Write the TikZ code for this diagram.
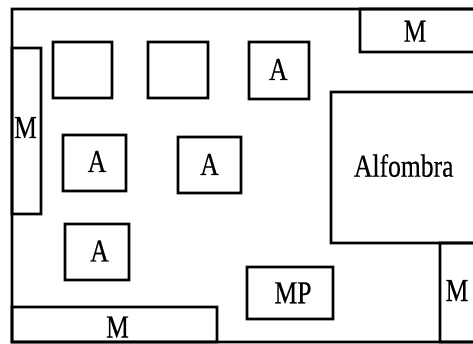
\documentclass[tikz,border=0pt]{standalone}
\usepackage{fontspec}
\setmainfont{Liberation Serif}
\newfontfamily\labfont[FakeStretch=0.8,FakeBold=0.4]{Liberation Serif}
\tikzset{
  lab/.style={anchor=base,inner sep=0pt,font=\labfont\fontsize{32}{32}\selectfont,text=black}
}
% outlined box drawn as a frame: outer corner, inner corner
\newcommand{\frameit}[5][2.7]{\fill[black,even odd rule] (#2-#1/2,#3-#1/2) rectangle (#4+#1/2,#5+#1/2) (#2+#1/2,#3+#1/2) rectangle (#4-#1/2,#5-#1/2);}
\begin{document}
\begin{tikzpicture}[x=1pt,y=-1pt]
\clip (0,0) rectangle (473,344);
\fill[white] (0,0) rectangle (473,344);
\frameit{12}{9}{490}{342}
\frameit{12}{48}{41}{214}
\frameit{53}{42}{112}{98}
\frameit{148}{42}{208}{98}
\frameit{249}{42}{309}{99}
\frameit{63}{135}{126}{191}
\frameit{178}{137}{241}{193}
\frameit{65}{224}{129}{280}
\frameit{12}{307}{217}{342}
\frameit{360}{9}{490}{52}
\frameit{331}{92}{490}{243}
\frameit{247}{267}{333}{319}
\frameit{440}{243}{490}{342}
\node[lab] (mleft) at (25.5,138) {M};
\node[lab] (a1) at (278.3,80) {A};
\node[lab] (a2) at (97,172) {A};
\node[lab] (a3) at (209.5,175) {A};
\node[lab] (a4) at (99.5,261.5) {A};
\node[lab] (mbottom) at (117.5,337.5) {M};
\node[lab] (mtop) at (415,41.7) {M};
\node[lab] (alf) at (403.7,176.7) {Alfombra};
\node[lab] (mp) at (293,303.3) {MP};
\node[lab] (mright) at (457,301) {M};
\end{tikzpicture}
\end{document}
